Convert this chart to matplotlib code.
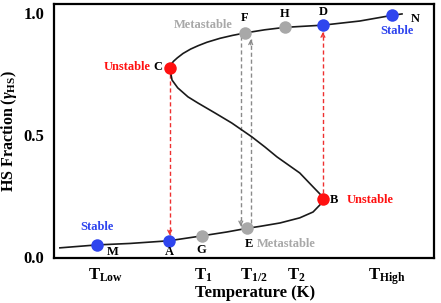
import matplotlib
matplotlib.use("Agg")
import matplotlib.pyplot as plt

plt.rcParams['font.family'] = ['Liberation Serif', 'DejaVu Serif']
plt.rcParams['font.weight'] = 'bold'
plt.rcParams['axes.labelweight'] = 'bold'
plt.rcParams['mathtext.fontset'] = 'custom'
plt.rcParams['mathtext.rm'] = 'Liberation Serif:bold'
plt.rcParams['mathtext.bf'] = 'Liberation Serif:bold'
plt.rcParams['mathtext.it'] = 'Liberation Serif:italic:bold'

# S-shaped curve (temperature in arbitrary units)
curve_T = [0.16, 1.13, 2.0, 3.03, 3.89, 4.55, 5.08, 5.42, 5.95, 6.47, 6.82, 7.00, 7.08,
           7.00, 6.82, 6.47, 6.17, 5.87, 5.55, 5.21, 4.95, 4.68, 4.24, 3.79, 3.53, 3.26, 3.11, 3.05,
           3.08, 3.15, 3.25, 3.40, 3.60, 3.80, 4.03, 4.37, 4.70, 5.03, 5.55, 6.08, 7.08, 8.05, 8.89, 9.16]
curve_y = [0.037, 0.049, 0.055, 0.066, 0.086, 0.102, 0.117, 0.125, 0.139, 0.160, 0.184, 0.213, 0.238,
           0.258, 0.287, 0.344, 0.377, 0.410, 0.451, 0.492, 0.520, 0.549, 0.590, 0.631, 0.656, 0.693, 0.725, 0.775,
           0.788, 0.802, 0.816, 0.834, 0.852, 0.866, 0.880, 0.896, 0.908, 0.918, 0.931, 0.941, 0.950, 0.967, 0.990, 0.996]

# marked states
pt_name = ['M', 'A', 'G', 'E', 'B', 'C', 'F', 'H', 'D', 'N']
pt_T = [1.13, 3.03, 3.89, 5.08, 7.08, 3.05, 5.03, 6.08, 7.08, 8.89]
pt_y = [0.050, 0.066, 0.086, 0.117, 0.238, 0.775, 0.918, 0.941, 0.950, 0.990]
pt_kind = ['stable', 'stable', 'meta', 'meta', 'unstable', 'unstable', 'meta', 'meta', 'stable', 'stable']

tick_T = [1.37, 3.92, 5.26, 6.39, 8.76]
tick_labels = [r'$\mathrm{T_{Low}}$', r'$\mathrm{T_{1}}$', r'$\mathrm{T_{1/2}}$',
               r'$\mathrm{T_{2}}$', r'$\mathrm{T_{High}}$']
y_ticks = [0.0, 0.5, 1.0]

# transitions (x, start y, end y)
red_jumps = [(3.05, 0.75, 0.088), (7.08, 0.262, 0.922)]
gray_jumps = [(4.92, 0.905, 0.125), (5.18, 0.14, 0.892)]

colors = {'stable': '#2f45ee', 'meta': '#a8a8a8', 'unstable': '#ff1010'}
bold = dict(fontweight='bold')

fig = plt.figure(figsize=(4.41, 3.03), dpi=100)
ax = fig.add_axes([0.122, 0.149, 0.862, 0.838])

for x, y0, y1 in red_jumps:
    ax.plot([x, x], [y0, y1], color='#ee3030', lw=1.0, ls=(0, (3, 2)), zorder=1)
    ax.annotate('', xy=(x, y1), xytext=(x, y1 + (y0 - y1) * 0.03),
                arrowprops=dict(arrowstyle='->', color='#ee3030', lw=0.9,
                                mutation_scale=7, shrinkA=0, shrinkB=0))
for x, y0, y1 in gray_jumps:
    ax.plot([x, x], [y0, y1], color='#8a8a8a', lw=1.0, ls=(0, (3, 2)), zorder=1)
    ax.annotate('', xy=(x, y1), xytext=(x, y1 + (y0 - y1) * 0.03),
                arrowprops=dict(arrowstyle='->', color='#8a8a8a', lw=0.9,
                                mutation_scale=7, shrinkA=0, shrinkB=0))

ax.plot(curve_T, curve_y, color='#1a1a1a', lw=1.2, zorder=2)

for n, x, y, k in zip(pt_name, pt_T, pt_y, pt_kind):
    ax.plot(x, y, 'o', color=colors[k], ms=9, mec='none', zorder=3)

# letter labels
fs = 9
ax.text(1.55, 0.018, 'M', fontsize=fs, ha='center', va='center', **bold)
ax.text(3.03, 0.018, 'A', fontsize=fs, ha='center', va='center', **bold)
ax.text(3.89, 0.030, 'G', fontsize=fs, ha='center', va='center', **bold)
ax.text(5.13, 0.053, 'E', fontsize=fs, ha='center', va='center', **bold)
ax.text(7.38, 0.235, 'B', fontsize=fs, ha='center', va='center', **bold)
ax.text(2.75, 0.777, 'C', fontsize=fs, ha='center', va='center', **bold)
ax.text(5.03, 0.980, 'F', fontsize=fs, ha='center', va='center', **bold)
ax.text(6.08, 0.995, 'H', fontsize=fs, ha='center', va='center', **bold)
ax.text(7.08, 1.003, 'D', fontsize=fs, ha='center', va='center', **bold)
ax.text(9.50, 0.975, 'N', fontsize=fs, ha='center', va='center', **bold)

ax.text(2.55, 0.777, 'Unstable', color=colors['unstable'], fontsize=fs, ha='right', va='center', **bold)
ax.text(7.70, 0.235, 'Unstable', color=colors['unstable'], fontsize=fs, ha='left', va='center', **bold)
ax.text(3.15, 0.950, 'Metastable', color=colors['meta'], fontsize=fs, ha='left', va='center', **bold)
ax.text(5.35, 0.053, 'Metastable', color=colors['meta'], fontsize=fs, ha='left', va='center', **bold)
ax.text(1.13, 0.122, 'Stable', color=colors['stable'], fontsize=fs, ha='center', va='center', **bold)
ax.text(9.03, 0.925, 'Stable', color=colors['stable'], fontsize=fs, ha='center', va='center', **bold)

ax.set_xlim(0, 10)
ax.set_ylim(-0.004, 1.037)
ax.set_xticks(tick_T)
ax.set_xticklabels(tick_labels, fontsize=12)
ax.set_yticks(y_ticks)
ax.set_yticklabels(['%.1f' % v for v in y_ticks], fontsize=12, **bold)
ax.tick_params(length=0, pad=7)
ax.tick_params(axis='x', pad=6)

ax.set_xlabel('Temperature (K)', fontsize=12, **bold)
ax.xaxis.set_label_coords(0.53, -0.105)
ax.set_ylabel(r'HS Fraction ($\gamma_{\mathrm{HS}}$)', fontsize=11.5, labelpad=3, **bold)

for s in ax.spines.values():
    s.set_linewidth(1.6)

fig.savefig('out.png', dpi=100)
